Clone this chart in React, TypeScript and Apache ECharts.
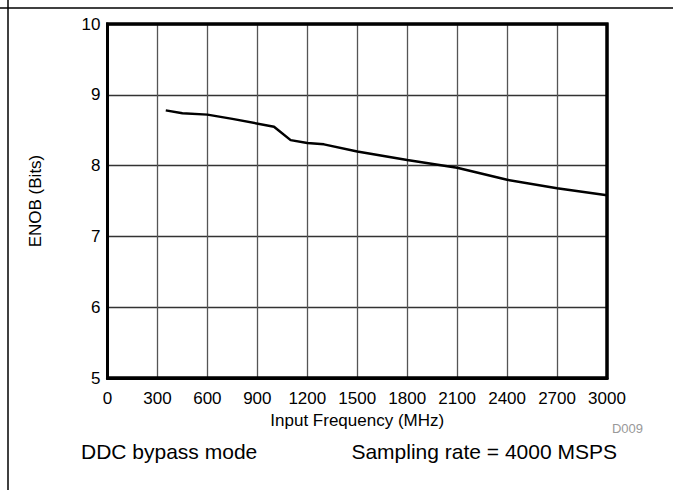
import React, { useEffect, useRef } from "react";
import * as echarts from "echarts";

const freqMHz = [350, 450, 600, 750, 1000, 1100, 1200, 1300, 1500, 1800, 2100, 2400, 2700, 3000];
const enobBits = [8.78, 8.74, 8.72, 8.66, 8.55, 8.36, 8.32, 8.3, 8.2, 8.08, 7.97, 7.8, 7.68, 7.58];
const xTicks = { min: 0, max: 3000, interval: 300 };
const yTicks = { min: 5, max: 10, interval: 1 };
const xName = "Input Frequency (MHz)";
const yName = "ENOB (Bits)";
const noteLeft = "DDC bypass mode";
const noteRight = "Sampling rate = 4000 MSPS";
const figId = "D009";

const FONT = "'Liberation Sans', Arial, sans-serif";

export default function App() {
  const ref = useRef<HTMLDivElement>(null);
  useEffect(() => {
    if (!ref.current) return;
    const chart = echarts.init(ref.current, undefined, { renderer: "svg" });
    const data = freqMHz.map((f, i) => [f, enobBits[i]]);
    chart.setOption({
      animation: false,
      backgroundColor: "#fff",
      grid: {
        left: 107.5,
        right: 66,
        top: 24,
        bottom: 112,
        show: true,
        borderColor: "#000",
        borderWidth: 3,
        backgroundColor: "transparent",
        z: 10,
      },
      xAxis: {
        type: "value",
        min: xTicks.min,
        max: xTicks.max,
        interval: xTicks.interval,
        name: xName,
        nameLocation: "middle",
        nameGap: 33,
        nameTextStyle: { color: "#000", fontSize: 17, fontFamily: FONT },
        axisLine: { show: true, lineStyle: { color: "#000", width: 3 } },
        axisTick: { show: false },
        axisLabel: {
          color: "#000",
          fontSize: 17,
          fontFamily: FONT,
          margin: 12,
          formatter: (v: number) => String(v),
        },
        splitLine: { show: true, lineStyle: { color: "#555", width: 1.3 } },
      },
      yAxis: {
        type: "value",
        min: yTicks.min,
        max: yTicks.max,
        interval: yTicks.interval,
        name: yName,
        nameLocation: "middle",
        nameGap: 64,
        nameTextStyle: { color: "#000", fontSize: 17, fontFamily: FONT },
        axisLine: { show: true, lineStyle: { color: "#000", width: 3 } },
        axisTick: { show: false },
        axisLabel: {
          color: "#000",
          fontSize: 17,
          fontFamily: FONT,
          margin: 7,
          formatter: (v: number) => String(v),
        },
        splitLine: { show: true, lineStyle: { color: "#333", width: 1.3 } },
      },
      series: [
        {
          type: "line",
          data,
          showSymbol: false,
          symbol: "none",
          lineStyle: { color: "#000", width: 2.5 },
          z: 5,
        },
      ],
      graphic: [
        { type: "line", shape: { x1: 0, y1: 8, x2: 673, y2: 8 }, style: { stroke: "#000", lineWidth: 1.5 } },
        { type: "line", shape: { x1: 8, y1: 0, x2: 8, y2: 490 }, style: { stroke: "#000", lineWidth: 1.5 } },
        { type: "rect", shape: { x: 107.5, y: 24, width: 499.5, height: 354 }, style: { fill: "none", stroke: "#000", lineWidth: 3 }, z: 100 },
        {
          type: "text",
          left: 81,
          top: 441,
          style: { text: noteLeft, fontSize: 21, fontFamily: FONT, fill: "#000" },
        },
        {
          type: "text",
          right: 56,
          top: 441,
          style: { text: noteRight, fontSize: 21, fontFamily: FONT, fill: "#000" },
        },
        {
          type: "text",
          right: 30,
          top: 422,
          style: { text: figId, fontSize: 13, fontFamily: FONT, fill: "#999" },
        },
      ],
    });
    return () => chart.dispose();
  }, []);
  return (
    <div
      ref={ref}
      style={{ position: "fixed", left: 0, top: 0, width: 673, height: 490 }}
    />
  );
}
